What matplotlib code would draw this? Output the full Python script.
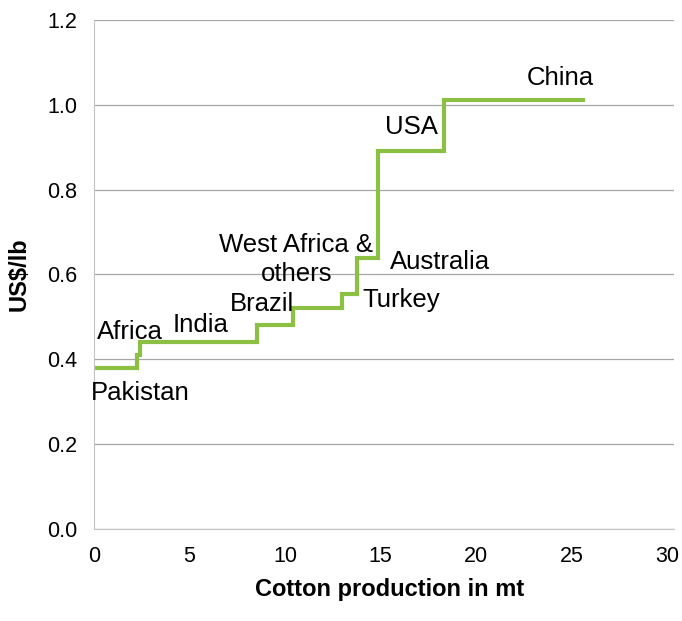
import numpy as np
import matplotlib.pyplot as plt

plt.rcParams['font.family'] = ['Liberation Sans', 'DejaVu Sans']

# production per origin (mt) and cost (US$/lb), cheapest first
countries = ['Pakistan', 'Africa', 'India', 'Brazil', 'West Africa &\nothers',
             'Turkey', 'Australia', 'USA', 'China']
production = [2.24, 0.17, 6.11, 1.91, 2.54, 0.78, 1.13, 3.46, 7.28]
cost = [0.38, 0.41, 0.44, 0.48, 0.52, 0.555, 0.64, 0.89, 1.01]

# label positions (x, y) in data units
label_x = [2.4, 1.9, 5.6, 8.8, 10.6, 16.1, 18.1, 16.6, 24.4]
label_y = [0.32, 0.465, 0.48, 0.53, 0.635, 0.54, 0.63, 0.948, 1.062]

edges = np.concatenate([[0], np.cumsum(production)])
levels = cost + [cost[-1]]

fig = plt.figure(figsize=(6.82, 6.21), dpi=100)
ax = fig.add_axes([0.1378, 0.148, 0.850, 0.820])

ax.step(edges, levels, where='post', color='#8BC043', lw=3, solid_joinstyle='miter')

for name, x, y in zip(countries, label_x, label_y):
    ax.text(x, y, name, ha='center', va='center', fontsize=18.5,
            linespacing=1.3, color='black')

ax.set_xlim(0, 30.35)
ax.set_ylim(0, 1.2)
ax.set_xticks(np.arange(0, 31, 5))
ax.set_yticks(np.arange(0, 1.21, 0.2))
ax.set_yticklabels([f'{v:.1f}' for v in np.arange(0, 1.21, 0.2)])
ax.tick_params(length=0, labelsize=15.5)
ax.tick_params(axis='y', pad=12)
ax.tick_params(axis='x', pad=12)

ax.grid(axis='y', color='#a6a6a6', lw=0.9)
ax.set_axisbelow(True)
for s in ['top', 'right']:
    ax.spines[s].set_visible(False)
ax.spines['left'].set_color('#c4c4c4')
ax.spines['bottom'].set_color('#c4c4c4')

ax.set_xlabel('Cotton production in mt', fontsize=17, fontweight='bold')
ax.set_ylabel('US$/lb', fontsize=17, fontweight='bold')
ax.xaxis.set_label_coords(0.51, -0.096)
ax.yaxis.set_label_coords(-0.11, 0.5)

fig.savefig('out.png', dpi=100)
